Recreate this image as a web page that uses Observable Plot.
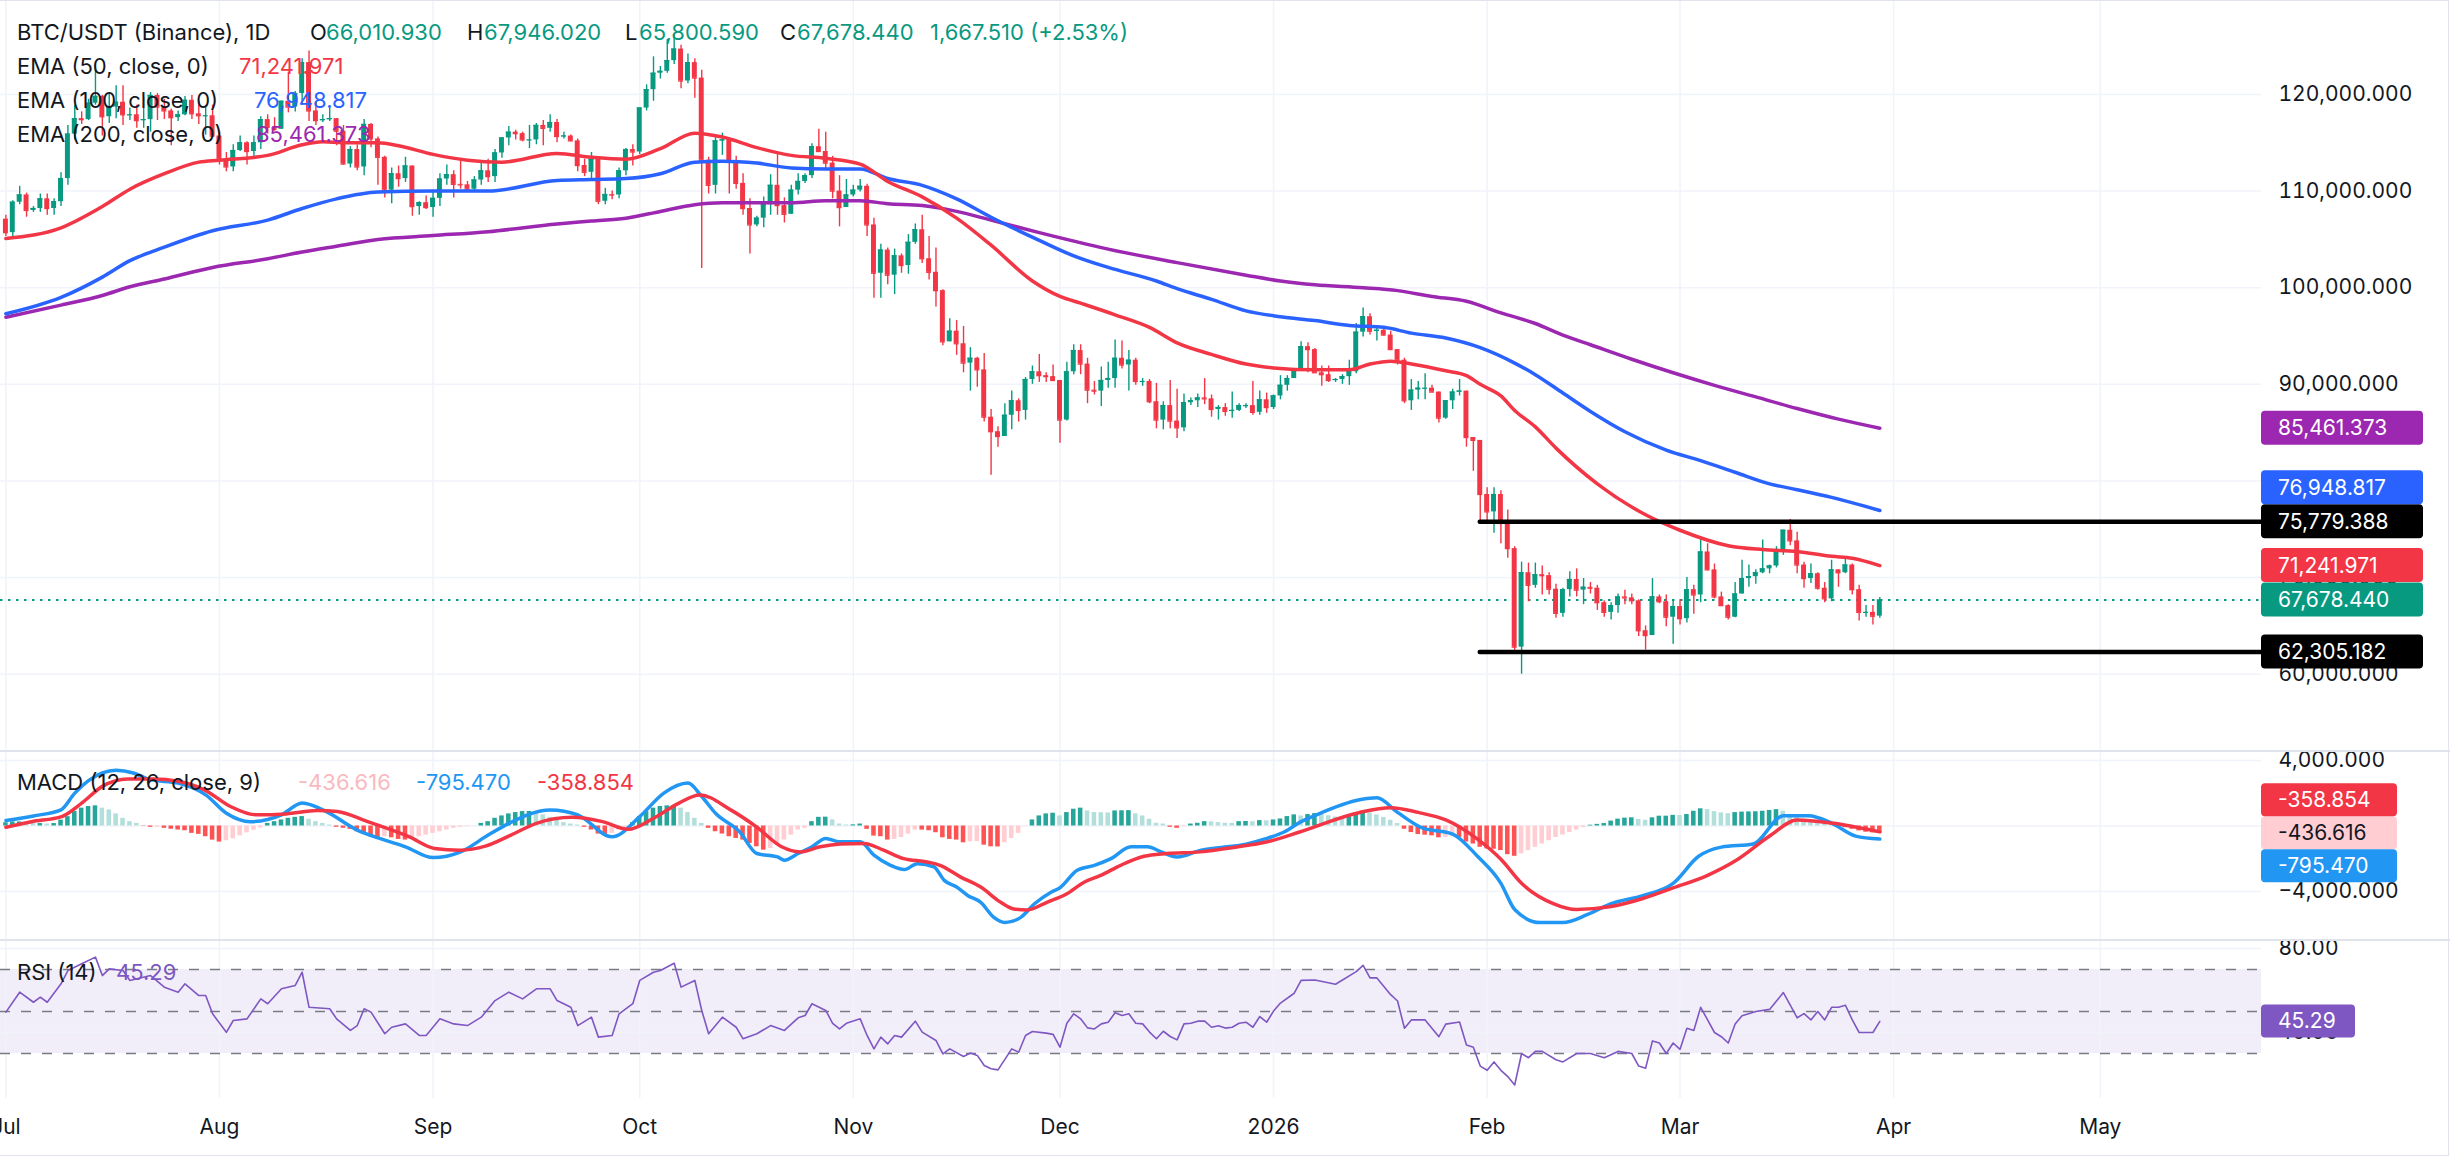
<!DOCTYPE html>
<html><head><meta charset="utf-8">
<script src="https://cdn.jsdelivr.net/npm/d3@7"></script>
<script src="https://cdn.jsdelivr.net/npm/@observablehq/plot@0.6"></script>
<style>
html,body{margin:0;padding:0;background:#fff;}
#chart{position:relative;width:2450px;height:1156px;overflow:hidden;font-family:Inter,"Noto Sans",sans-serif;background:#fff;}
.pane{position:absolute;left:0;}
.lg{position:absolute;font-size:22px;color:#131722;white-space:pre;line-height:26px;}
.sep{position:absolute;left:0;width:2450px;height:2px;background:#e0e3eb;}
</style></head><body><div id="chart"></div>
<script>
// ---------- DATA (prices in thousands of USDT) ----------
// daily candles [open, high, low, close]
const jul2025 = [[107.1,107.5,105.3,105.7],[105.7,109.0,105.2,108.85],[108.85,110.5,108.6,109.6],[109.6,109.8,107.3,108.0],[108.0,108.4,107.8,108.2],[108.2,109.7,107.8,109.2],[109.2,109.7,107.5,108.2],[108.2,109.2,107.5,108.9],[108.9,111.9,108.4,111.3],[111.3,116.8,110.6,115.9],[115.9,118.9,115.3,117.5],[117.5,118.2,116.9,117.4],[117.4,119.5,117.3,119.1],[119.1,123.2,118.9,119.8],[119.8,119.9,115.7,117.7],[117.7,120.1,117.0,118.7],[118.7,120.9,117.5,119.2],[119.2,120.9,116.8,117.9],[117.9,118.6,117.3,117.9],[117.9,118.9,116.5,117.3],[117.3,119.7,116.5,117.4],[117.4,120.2,116.1,119.9],[119.9,120.1,117.3,118.7],[118.7,119.5,117.4,118.3],[118.3,118.5,114.7,117.6],[117.6,118.3,117.2,117.9],[117.9,119.8,117.8,119.4],[119.4,119.9,117.4,118.0],[118.0,119.3,116.9,117.8],[117.8,118.8,115.8,117.8],[117.8,118.9,115.5,115.7]];
const aug2025 = [[115.7,116.1,112.7,113.3],[113.3,114.0,112.0,112.5],[112.5,114.8,112.0,114.2],[114.2,115.7,114.1,115.0],[115.0,115.1,112.7,114.1],[114.1,115.7,113.4,115.0],[115.0,117.7,114.3,117.4],[117.4,117.9,115.9,116.6],[116.6,117.6,116.2,116.4],[116.4,119.3,116.4,119.3],[119.3,122.3,118.1,118.7],[118.7,120.3,118.2,120.1],[120.1,123.7,118.9,123.3],[123.3,124.5,117.2,118.3],[118.3,119.2,116.8,117.3],[117.3,117.9,117.1,117.4],[117.4,118.6,117.2,117.5],[117.5,117.5,114.7,116.2],[116.2,116.8,112.7,112.8],[112.8,114.6,112.4,114.3],[114.3,114.8,112.1,112.5],[112.5,117.4,111.6,116.9],[116.9,117.0,114.5,115.4],[115.4,115.6,110.6,113.5],[113.5,113.6,109.3,110.1],[110.1,112.4,108.7,111.8],[111.8,112.6,110.4,111.3],[111.3,113.5,110.9,112.6],[112.6,112.6,107.4,108.4],[108.4,108.9,107.5,108.8],[108.8,109.5,108.1,108.3]];
const sep2025 = [[108.3,109.9,107.3,109.25],[109.25,111.8,108.4,111.25],[111.25,112.7,110.6,111.7],[111.7,112.1,109.3,110.7],[110.7,113.4,110.2,110.65],[110.65,111.0,109.9,110.2],[110.2,111.5,110.0,111.15],[111.15,112.9,110.6,112.1],[112.1,113.3,110.9,111.5],[111.5,114.3,110.9,113.95],[113.95,115.5,113.4,115.5],[115.5,116.7,114.7,116.1],[116.1,116.3,115.3,115.95],[115.95,116.1,115.1,115.3],[115.3,116.8,114.4,115.3],[115.3,117.0,114.8,116.8],[116.8,117.3,114.7,116.5],[116.5,117.9,116.1,117.1],[117.1,117.4,115.0,115.65],[115.65,116.1,115.4,115.7],[115.7,115.8,115.1,115.2],[115.2,115.4,112.0,112.65],[112.65,113.3,111.5,111.95],[111.95,114.0,111.1,113.3],[113.3,113.5,108.6,108.95],[108.95,110.3,108.6,109.65],[109.65,110.0,109.1,109.6],[109.6,112.4,109.2,112.1],[112.1,114.4,111.6,114.3],[114.3,114.8,112.6,114.05]];
const oct2025 = [[114.05,118.6,113.8,118.6],[118.6,121.0,118.3,120.5],[120.5,123.9,119.3,122.2],[122.2,122.9,121.6,122.4],[122.4,125.7,122.2,123.5],[123.5,126.2,123.1,124.7],[124.7,125.1,120.6,121.4],[121.4,124.2,121.1,123.3],[123.3,123.7,119.6,121.7],[121.7,122.5,102.0,113.2],[113.2,113.5,109.7,110.6],[110.6,115.8,109.7,115.2],[115.2,116.0,113.7,115.3],[115.3,115.5,109.7,113.1],[113.1,113.6,110.2,110.8],[110.8,111.8,107.5,108.2],[108.2,109.2,103.5,106.5],[106.5,107.4,106.3,107.2],[107.2,109.4,106.2,108.6],[108.6,111.7,107.5,110.6],[110.6,114.0,107.5,108.5],[108.5,109.3,106.7,107.6],[107.6,110.6,107.6,110.1],[110.1,111.8,109.6,111.0],[111.0,111.8,110.8,111.6],[111.6,114.9,111.3,114.6],[114.6,116.4,114.0,114.1],[114.1,116.1,112.2,112.9],[112.9,113.6,109.2,110.0],[110.0,111.6,106.3,108.3],[108.3,111.2,108.3,109.6]];
const nov2025 = [[109.6,110.6,109.4,110.1],[110.1,111.2,109.9,110.5],[110.5,110.7,105.3,106.5],[106.5,107.2,98.9,101.5],[101.5,104.5,98.9,103.9],[103.9,104.1,100.3,101.3],[101.3,104.0,99.3,103.3],[103.3,103.5,101.5,102.3],[102.3,105.5,101.4,104.7],[104.7,106.6,104.5,106.0],[106.0,107.5,102.5,103.0],[103.0,105.3,100.8,101.6],[101.6,104.1,98.0,99.7],[99.7,99.8,94.0,94.4],[94.4,96.8,94.4,95.5],[95.5,96.6,93.0,94.2],[94.2,96.0,91.2,92.2],[92.2,93.8,89.3,92.7],[92.7,92.8,89.7,91.5],[91.5,93.2,86.1,86.6],[86.6,87.4,80.6,85.1],[85.1,85.6,83.5,84.6],[84.6,88.0,84.6,86.8],[86.8,89.3,85.3,88.3],[88.3,88.5,86.1,87.3],[87.3,90.7,86.3,90.5],[90.5,91.9,90.0,91.3],[91.3,93.1,90.2,90.9],[90.9,91.2,90.2,90.8],[90.8,92.0,90.3,90.4]];
const dec2025 = [[90.4,90.4,83.9,86.3],[86.3,92.3,86.2,91.3],[91.3,94.1,91.0,93.5],[93.5,94.1,91.0,92.1],[92.1,92.7,88.0,89.4],[89.4,90.3,88.9,89.3],[89.3,91.8,87.7,90.4],[90.4,92.3,89.6,90.6],[90.6,94.6,89.6,92.7],[92.7,94.5,91.6,92.0],[92.0,93.5,89.3,92.5],[92.5,92.7,89.9,90.3],[90.3,90.6,89.8,90.3],[90.3,90.5,88.0,88.2],[88.2,90.1,85.4,86.3],[86.3,88.2,85.3,87.8],[87.8,90.4,85.4,86.2],[86.2,89.5,84.4,85.5],[85.5,89.0,85.1,88.1],[88.1,88.6,87.8,88.3],[88.3,89.0,87.6,88.6],[88.6,90.6,87.9,88.5],[88.5,88.9,86.6,87.4],[87.4,87.8,86.3,87.6],[87.6,88.0,86.7,87.2],[87.2,89.2,86.5,87.3],[87.3,88.0,87.2,87.8],[87.8,88.0,87.5,87.8],[87.8,90.3,86.8,87.1],[87.1,89.3,86.8,88.4],[88.4,89.1,87.0,87.6]];
const jan2026 = [[87.6,88.9,87.4,88.8],[88.8,90.9,88.4,89.9],[89.9,90.9,89.3,90.6],[90.6,91.6,90.6,91.5],[91.5,94.4,91.4,93.9],[93.9,94.3,91.2,93.6],[93.6,93.7,91.2,91.2],[91.2,91.9,89.8,91.0],[91.0,91.9,90.2,90.4],[90.4,90.6,90.2,90.5],[90.5,91.0,90.0,90.8],[90.8,92.5,89.9,91.3],[91.3,96.3,91.1,95.4],[95.4,97.9,94.9,97.0],[97.0,97.3,95.1,95.5],[95.5,95.8,94.5,95.6],[95.6,95.7,95.0,95.1],[95.1,95.5,93.6,93.6],[93.6,93.6,92.0,92.5],[92.5,92.7,88.0,88.3],[88.3,90.5,87.3,89.4],[89.4,90.3,88.4,89.6],[89.6,91.1,88.4,89.6],[89.6,89.9,89.2,89.2],[89.2,89.2,86.0,86.5],[86.5,88.3,86.4,88.3],[88.3,89.5,87.4,89.2],[89.2,90.5,88.8,89.3],[89.3,89.3,83.5,84.5],[84.5,84.5,81.0,84.2],[84.2,84.2,75.7,78.6]];
const feb2026 = [[78.6,79.3,75.7,76.8],[76.8,79.3,74.6,78.6],[78.6,79.0,73.5,75.6],[75.6,77.0,72.0,73.0],[73.0,73.2,62.3,62.8],[62.8,71.6,60.0,70.5],[70.5,71.5,67.5,69.2],[69.2,71.5,68.9,70.3],[70.3,71.2,68.2,70.2],[70.2,70.5,68.2,68.8],[68.8,69.3,65.8,66.3],[66.3,68.9,65.9,68.75],[68.75,70.6,68.0,69.8],[69.8,70.9,68.0,68.7],[68.7,69.9,67.2,69.0],[69.0,69.5,68.3,68.9],[68.9,69.2,66.6,67.4],[67.4,67.6,65.9,66.4],[66.4,67.4,65.6,67.1],[67.1,68.3,66.3,68.0],[68.0,68.7,67.2,67.9],[67.9,68.3,67.2,67.6],[67.6,67.7,63.9,64.5],[64.5,65.0,62.5,64.0],[64.0,69.9,64.0,68.0],[68.0,68.2,67.3,67.5],[67.5,68.2,64.9,65.9],[65.9,67.7,63.1,67.0]];
const mar2026 = [[67.0,67.7,65.1,65.75],[65.75,70.0,65.3,68.75],[68.75,69.2,66.2,68.2],[68.2,74.0,67.4,72.65],[72.65,73.5,70.7,70.8],[70.8,71.4,67.8,68.0],[68.0,68.5,67.0,67.1],[67.1,67.2,65.6,65.9],[65.9,69.5,65.85,68.3],[68.3,71.8,68.3,69.9],[69.9,71.3,69.0,70.1],[70.1,70.8,69.3,70.5],[70.5,73.9,70.4,70.9],[70.9,71.3,70.4,71.2],[71.2,73.2,71.0,72.9],[72.9,74.9,72.3,74.9],[74.9,76.0,73.3,73.8],[73.8,74.7,70.4,71.3],[71.3,71.6,68.9,69.9],[69.9,71.4,69.4,70.4],[70.4,70.5,68.7,68.9],[68.9,69.5,67.4,67.8],[67.8,71.8,67.5,70.8],[70.8,70.8,69.0,70.5],[70.5,72.0,70.4,71.3],[71.3,71.4,68.2,68.75],[68.75,69.2,65.5,66.4],[66.4,67.1,65.9,66.4],[66.4,67.1,65.1,66.0],[66.011,67.946,65.801,67.678]];
const monthStarts = ["2025-07-01","2025-08-01","2025-09-01","2025-10-01","2025-11-01","2025-12-01","2026-01-01","2026-02-01","2026-03-01"];

// MACD histogram, one value per candle, per month
const histJul = [200,250,250,200,150,150,120,150,360,570,880,1090,1190,1230,1090,980,740,470,265,160,-20,-80,-80,-140,-200,-245,-290,-450,-510,-655,-860];
const histAug = [-980,-900,-780,-600,-420,-260,-120,160,265,370,470,530,575,410,265,160,60,-80,-140,-205,-350,-450,-655,-760,-655,-720,-820,-860,-760,-655,-555];
const histSep = [-450,-350,-245,-140,-80,-40,-10,160,265,470,615,740,820,880,890,780,680,530,370,205,120,60,-80,-245,-490,-615,-450,-245,-80,205];
const histOct = [575,880,1090,1190,1230,1240,1090,820,470,160,-140,-350,-490,-655,-760,-860,-1065,-1270,-1475,-1370,-1170,-860,-555,-245,-140,265,530,540,370,120,60];
const histNov = [70,120,-205,-615,-655,-860,-820,-700,-490,-245,-250,-290,-410,-720,-820,-860,-1025,-960,-950,-1170,-1270,-1280,-1025,-760,-450,-20,370,615,740,780];
const histDec = [615,820,1025,1090,920,820,810,800,920,930,940,740,615,410,165,120,-80,-140,-40,120,165,265,255,205,165,160,265,275,260,330,320];
const histJan = [370,430,575,680,615,700,760,700,620,550,500,560,750,860,800,670,520,350,150,-200,-400,-520,-560,-600,-720,-700,-650,-700,-980,-1100,-1300];
const histFeb = [-1400,-1420,-1500,-1750,-1850,-1700,-1500,-1300,-1100,-900,-700,-550,-400,-250,-100,50,100,150,300,420,480,500,400,350,500,600,600,650];
const histMar = [640,700,900,1050,1000,880,800,750,820,850,860,870,900,950,1000,900,700,520,400,300,180,120,60,-60,-100,-200,-300,-380,-420,-436.616];

// EMA readings: [days since 2025-07-01, value in thousands]
const ema50 = [[0,105.1],[8,106.2],[14,108.4],[18,110.2],[23,111.8],[28,113.0],[31,113.2],[38,113.7],[43,114.8],[46,115.1],[49,115.0],[54,115.0],[57,114.7],[62,113.8],[67,113.2],[72,113.0],[80,113.9],[85,113.5],[90,113.3],[95,114.4],[100,116.0],[104,115.6],[109,114.5],[114,113.7],[119,113.4],[124,112.8],[128,111.0],[133,109.4],[138,107.2],[143,104.4],[149,100.7],[153,99.1],[156,98.4],[161,97.2],[166,95.9],[170,94.3],[175,93.1],[180,92.1],[184,91.7],[190,91.5],[195,91.5],[198,92.1],[201,92.4],[204,92.1],[209,91.4],[212,90.9],[214,90.0],[217,88.8],[219,87.3],[222,85.6],[225,83.4],[231,79.7],[238,76.5],[243,74.9],[250,73.3],[255,72.9],[260,72.7],[265,72.2],[268,72.0],[272,71.242]];
const ema100 = [[0,97.3],[8,99.0],[14,101.1],[18,102.8],[23,104.2],[30,105.9],[38,107.0],[43,108.2],[48,109.2],[54,109.9],[62,110.0],[70,110.0],[80,111.1],[85,111.2],[90,111.3],[95,111.8],[100,113.0],[104,113.1],[109,112.9],[114,112.4],[119,112.3],[124,112.3],[128,111.3],[133,110.6],[138,109.2],[143,107.3],[150,104.9],[155,103.3],[160,102.1],[167,100.7],[170,99.9],[175,98.8],[180,97.6],[185,97.0],[190,96.6],[195,96.1],[200,95.9],[204,95.3],[209,94.8],[214,93.8],[219,92.2],[222,91.0],[226,89.1],[230,87.2],[235,85.1],[241,83.2],[246,82.1],[251,80.9],[256,79.7],[260,79.1],[265,78.3],[272,76.949]];
const ema200 = [[0,96.95],[8,98.2],[14,99.2],[18,100.1],[23,100.9],[30,102.1],[38,103.0],[43,103.7],[48,104.3],[54,105.0],[62,105.4],[70,105.8],[80,106.6],[85,106.9],[90,107.2],[95,107.9],[100,108.6],[104,108.8],[109,108.8],[114,108.8],[119,109.0],[124,109.0],[128,108.7],[133,108.5],[138,107.9],[143,107.0],[150,105.7],[160,104.0],[170,102.6],[180,101.3],[185,100.7],[190,100.3],[197,100.0],[202,99.7],[207,99.1],[212,98.6],[217,97.4],[222,96.3],[226,95.1],[230,94.1],[236,92.6],[242,91.2],[248,89.9],[254,88.7],[260,87.5],[266,86.4],[272,85.461]];

// MACD line and signal readings: [days since 2025-07-01, value]
const macdLine = [[0,330],[4,615],[8,985],[10,2010],[14,3240],[16,3400],[18.5,3240],[21,2830],[25,2620],[29,1900],[32,780],[35.5,265],[40,680],[43,1400],[46.5,880],[51,-250],[55,-860],[58,-1270],[62,-1930],[66,-1580],[70,-555],[73,165],[79,985],[83,680],[88,-655],[92,575],[95.5,2010],[99,2620],[101,1800],[103,780],[106.5,-350],[109,-1680],[112,-1890],[113,-2090],[115,-1680],[117,-1270],[119,-760],[121,-965],[124,-965],[126,-1780],[128.4,-2400],[130.4,-2660],[132.3,-2300],[134.7,-2500],[136.2,-3320],[138,-3730],[139.6,-4240],[141.5,-4660],[143.4,-5580],[145,-5890],[147.3,-5580],[149.3,-4750],[151.7,-4040],[153,-3770],[155.5,-2700],[158,-2400],[160.4,-1990],[163.3,-1270],[165.7,-1270],[167.7,-1580],[170,-1890],[173.5,-1475],[176.4,-1310],[180,-1105],[183,-760],[185.6,-350],[188,265],[190,640],[196.5,1600],[199,1720],[202,830],[205.6,-120],[210,-490],[213.6,-1850],[217,-3500],[219,-5100],[222.7,-5900],[226,-5900],[229.6,-5400],[233,-4740],[237.6,-4250],[242,-3500],[245.7,-1850],[249,-1290],[253.6,-1100],[258,620],[261.6,620],[265,180],[268.5,-615],[272,-795.47]];
const macdSignal = [[0,-80],[3.7,265],[8.1,575],[11,1400],[14,2420],[17.7,2870],[21.4,2870],[25,2730],[28.8,2210],[32.6,1190],[36.3,680],[40.7,740],[45.2,940],[48.1,880],[52.5,265],[58.5,-655],[62.2,-1370],[65.9,-1475],[69.6,-1230],[73.3,-555],[77,165],[82.2,535],[86.6,265],[90.3,-205],[94,470],[97.7,1400],[100.7,1900],[105.2,985],[108.9,-40],[112.6,-1270],[115.3,-1580],[118.2,-1270],[121.1,-1105],[124.5,-1065],[127.4,-1475],[130.3,-1990],[133.7,-2195],[135.6,-2400],[138.6,-3120],[141.5,-3730],[144.4,-4660],[146.3,-5070],[148.2,-5130],[151.1,-4660],[154,-4140],[156.5,-3430],[158.9,-3020],[161.8,-2400],[165.2,-1850],[168.5,-1680],[173.4,-1580],[178.2,-1310],[183.1,-965],[187.9,-350],[196.5,830],[201,1110],[205,830],[209,370],[213.6,-800],[217,-2030],[220,-3500],[224.6,-4740],[228,-5100],[233,-4920],[237.6,-4430],[242,-3780],[247,-3010],[251.4,-2030],[256,-615],[260,370],[265,180],[272,-358.854]];

// RSI(14) readings: [days since 2025-07-01, value]
const rsi14 = [[0,49.7],[2,59.2],[4,54.4],[5,56.8],[6,54.4],[8,63.2],[9,69.5],[11,72.7],[13,75.9],[14,67.1],[15,70.3],[17,69.5],[18,64.8],[21,67.1],[23,61.6],[25,59.2],[26,63.2],[28,57.6],[29,57.6],[30,48.9],[32,40.1],[33,45.7],[35,46.5],[37,56.0],[38,53.7],[40,60.8],[42,62.4],[43,68.7],[44,52.0],[47,51.3],[48,46.5],[50,41.0],[51,43.3],[52,51.3],[53,49.7],[55,39.4],[56,42.5],[58,44.1],[60,38.6],[61,38.6],[63,46.5],[65,44.1],[67,43.3],[69,47.3],[71,55.2],[73,59.2],[75,56.0],[77,60.8],[79,60.8],[80,55.2],[82,52.0],[83,43.3],[85,47.3],[86,37.8],[88,38.6],[89,48.9],[91,53.7],[92,64.8],[94,68.7],[95,69.5],[97,73.0],[98,61.6],[100,64.8],[101,50.5],[102,39.4],[104,47.3],[106,42.5],[107,37.0],[109,39.4],[111,43.3],[113,41.0],[115,47.0],[116,48.1],[117,53.7],[119,50.5],[120,44.4],[121,41.7],[122,44.4],[124,46.5],[125,38.6],[126,32.2],[127,37.8],[128,34.6],[129,38.6],[130,37.8],[132,45.4],[133,40.2],[135,36.2],[136,29.8],[137,32.2],[139,28.6],[140,30.2],[141,29.1],[142,24.3],[143,22.7],[144,22.2],[146,32.2],[147,30.6],[148,38.6],[149,40.5],[151,39.7],[152,39.1],[153,33.0],[154,44.4],[155,48.9],[156,46.5],[157,42.2],[158,41.7],[159,44.1],[160,44.9],[161,49.4],[162,48.1],[163,48.9],[164,44.4],[165,44.1],[166,40.2],[167,37.0],[168,40.6],[169,38.1],[170,36.5],[171,44.1],[172,44.4],[173,45.4],[174,45.4],[175,42.5],[176,43.2],[177,42.1],[178,42.5],[179,44.4],[180,44.9],[181,42.5],[182,47.6],[183,44.9],[184,50.2],[185,54.0],[187,58.7],[188,64.8],[190,65],[193,63],[196,69],[197,72],[198,66],[199,66],[201,58],[202,55],[203,42],[204,46],[206,46],[208,38],[209,44],[211,45],[212,34],[213,33],[214,24],[215,22],[216,26],[217,22],[218,19],[219,15],[220,30],[221,28],[222,31],[223,31],[225,27],[226,26],[228,30],[230,30],[232,28],[234,31],[236,30],[237,24],[238,23],[239,36],[240,35],[241,30],[242,35],[243,32],[244,42],[245,41],[246,52],[247,46],[248,40],[249,38],[250,35],[251,44],[252,48],[254,50],[256,51],[257,55],[258,59],[259,53],[260,47],[261,49],[262,46],[263,50],[264,46],[265,52],[266,52],[267,53],[268,46],[269,40],[270,40],[271,40],[272,45.29]];

// horizontal levels drawn from 2026-01-31
const levels = [75.779388, 62.305182];
const levelStart = "2026-01-31";

// axis ticks
const priceTicks = [60,70,80,90,100,110,120];
const macdTicks = [4000,-4000];
const rsiTicks = [80,40];
const monthTicks = ["2025-07-01","2025-08-01","2025-09-01","2025-10-01","2025-11-01","2025-12-01","2026-01-01","2026-02-01","2026-03-01","2026-04-01","2026-05-01"];
const monthLabels = ["Jul","Aug","Sep","Oct","Nov","Dec","2026","Feb","Mar","Apr","May"];

// legend texts
const ohlcLegend = {o:"66,010.930",h:"67,946.020",l:"65,800.590",c:"67,678.440",chg:"1,667.510 (+2.53%)"};

// ---------- BUILD ----------
const GREEN="#089981", RED="#f23645", BLUE="#2962ff", PURPLE="#9c27b0", MACDBLUE="#2196f3", RSIP="#7e57c2", GRID="#f0f3fa", TXT="#131722";
const DAY = 864e5;
const T0 = Date.UTC(2025,6,1);
const dd = d => new Date(T0 + d*DAY);
const pd = s => new Date(s+"T00:00:00Z");
const shift = (date, k) => new Date(+date + k*DAY);
const xDomain = [dd(-0.784), dd(327.4)];
const W = 2450, MR = 189;

const candles = [];
[jul2025,aug2025,sep2025,oct2025,nov2025,dec2025,jan2026,feb2026,mar2026].forEach((rows,m)=>rows.forEach((r,i)=>{
  candles.push({date:d3.utcDay.offset(pd(monthStarts[m]),i),open:r[0],high:r[1],low:r[2],close:r[3]});
}));
candles.forEach(c=>c.col = c.close>=c.open?GREEN:RED);
const histVals = [].concat(histJul,histAug,histSep,histOct,histNov,histDec,histJan,histFeb,histMar);
const hist = histVals.map((v,i)=>{
  const prev = i>0?histVals[i-1]:v;
  const col = v>=0 ? (v>=prev?"#26a69a":"#b2dfdb") : (v<prev?"#ff5252":"#ffcdd2");
  return {date:candles[i].date, v, col};
});
const toPts = arr => arr.map(([d,v])=>({date:dd(d), v}));
const months = monthTicks.map((s,i)=>({date:pd(s), label:monthLabels[i]}));

const chart = document.getElementById("chart");
function place(el, top){ el.classList.add("pane"); el.style.top = top+"px"; chart.appendChild(el); }
const common = {width:W, marginLeft:0, marginRight:MR, marginTop:0, marginBottom:0,
  x:{type:"utc", domain:xDomain, axis:null}, style:{fontFamily:"Inter, sans-serif", color:TXT, background:"transparent", overflow:"visible"}};
const yAxis = (ticks, fmt) => Plot.axisY(ticks, {anchor:"right", label:null, tickSize:0, tickPadding:17, tickFormat:fmt, fontSize:21, fill:TXT, textAnchor:"start"});
const vgrid = Plot.ruleX(months, {x:"date", stroke:GRID, strokeWidth:1.5});

// main price pane
const main = Plot.plot({...common, height:750,
  y:{domain:[52.104,129.729], axis:null, label:null},
  marks:[
    Plot.ruleY(priceTicks, {stroke:GRID, strokeWidth:1.5}),
    vgrid,
    Plot.ruleY([candles[candles.length-1].close], {stroke:GREEN, strokeWidth:2, strokeDasharray:"2.5,5.5"}),
    Plot.ruleX(candles, {x:"date", y1:"low", y2:"high", stroke:"col", strokeWidth:1.4}),
    Plot.rect(candles, {x1:d=>shift(d.date,-0.36), x2:d=>shift(d.date,0.36), y1:"open", y2:"close", fill:"col"}),
    Plot.ruleY(candles, {y:"close", x1:d=>shift(d.date,-0.36), x2:d=>shift(d.date,0.36), stroke:"col", strokeWidth:1.3}),
    Plot.line(toPts(ema200), {x:"date", y:"v", stroke:PURPLE, strokeWidth:3.5, curve:"monotone-x"}),
    Plot.line(toPts(ema100), {x:"date", y:"v", stroke:BLUE, strokeWidth:3.5, curve:"monotone-x"}),
    Plot.line(toPts(ema50), {x:"date", y:"v", stroke:RED, strokeWidth:3.5, curve:"monotone-x"}),
    Plot.ruleY(levels, {y:d=>d, x1:pd(levelStart), x2:xDomain[1], stroke:"#000", strokeWidth:4.5, strokeLinecap:"round"}),
    yAxis(priceTicks, v=>d3.format(",.3f")(v*1000))
  ]});
place(main, 0);

// MACD pane
const macd = Plot.plot({...common, height:188,
  y:{domain:[-6931,4550], axis:null, label:null},
  marks:[
    Plot.ruleY([4000,0,-4000], {stroke:GRID, strokeWidth:1.5}),
    vgrid,
    Plot.rect(hist, {x1:d=>shift(d.date,-0.33), x2:d=>shift(d.date,0.33), y1:0, y2:"v", fill:"col"}),
    Plot.line(toPts(macdLine), {x:"date", y:"v", stroke:MACDBLUE, strokeWidth:3.5, curve:"monotone-x"}),
    Plot.line(toPts(macdSignal), {x:"date", y:"v", stroke:RED, strokeWidth:3.5, curve:"monotone-x"}),
    yAxis(macdTicks, v=>d3.format(",.3f")(v))
  ]});
place(macd, 751);

// RSI pane
const rsi = Plot.plot({...common, height:158,
  y:{domain:[8.57,83.81], axis:null, label:null},
  marks:[
    Plot.rect([{a:70,b:30}], {x1:xDomain[0], x2:xDomain[1], y1:"a", y2:"b", fill:RSIP, fillOpacity:0.1}),
    Plot.ruleY(rsiTicks, {stroke:GRID, strokeWidth:1.5}),
    vgrid,
    Plot.ruleY([70,50,30], {stroke:"#787b86", strokeWidth:1.5, strokeDasharray:"10,11"}),
    Plot.line(toPts(rsi14), {x:"date", y:"v", stroke:RSIP, strokeWidth:1.6}),
    yAxis(rsiTicks, v=>d3.format(".2f")(v))
  ]});
place(rsi, 940);

// time axis
const taxis = Plot.plot({...common, height:58, y:{axis:null},
  marks:[ Plot.text(months, {x:"date", text:"label", frameAnchor:"middle", fontSize:21, fill:TXT, fontWeight:d=>d.label==="2026"?"700":"400"}) ]});
place(taxis, 1098);

// value labels on the price scale, stacked so they don't overlap
function tags(fig, items, w, h){
  const sy = fig.scale("y");
  const placed = [];
  for (const it of items){
    let y = sy.apply(it.value);
    for (let k=0;k<3;k++) for (const p of placed){ if (Math.abs(y-p.y) < h-0.5) y = y < p.y ? p.y-h : p.y+h; }
    placed.push({...it, y});
  }
  const g = d3.select(fig).append("g").attr("text-anchor","start");
  for (const p of placed){
    g.append("rect").attr("x",W-MR).attr("y",p.y-h/2).attr("width",w).attr("height",h).attr("rx",4).attr("fill",p.bg);
    g.append("text").attr("x",W-MR+17).attr("y",p.y).attr("dy","0.36em").attr("text-anchor","start").attr("fill",p.fg).attr("font-size",21).attr("font-family","Inter, sans-serif").text(p.text);
  }
}
const f3 = d3.format(",.3f");
tags(main, [
  {value:levels[0], text:f3(levels[0]*1000), bg:"#000", fg:"#fff"},
  {value:levels[1], text:f3(levels[1]*1000), bg:"#000", fg:"#fff"},
  {value:67.67844, text:ohlcLegend.c, bg:GREEN, fg:"#fff"},
  {value:71.241971, text:"71,241.971", bg:RED, fg:"#fff"},
  {value:85.461373, text:"85,461.373", bg:PURPLE, fg:"#fff"},
  {value:76.948817, text:"76,948.817", bg:BLUE, fg:"#fff"}
], 162, 34);
tags(macd, [
  {value:-436.616, text:"-436.616", bg:"#ffcdd2", fg:TXT},
  {value:-358.854, text:"-358.854", bg:RED, fg:"#fff"},
  {value:-795.470, text:"-795.470", bg:MACDBLUE, fg:"#fff"}
], 136, 33);
tags(rsi, [{value:45.29, text:"45.29", bg:RSIP, fg:"#fff"}], 94, 33);

// legends
function legend(top, parts){
  const div = document.createElement("div"); div.className="lg"; div.style.top = top+"px"; div.style.left="0px"; div.style.width="1400px"; div.style.height="26px";
  for (const [x, t, c] of parts){ const s=document.createElement("span"); s.textContent=t; s.style.position="absolute"; s.style.left=x+"px"; s.style.color=c; div.appendChild(s); }
  chart.appendChild(div);
}
legend(19, [[17,"BTC/USDT (Binance), 1D",TXT],[310,"O",TXT],[326,ohlcLegend.o,GREEN],[467,"H",TXT],[484,ohlcLegend.h,GREEN],[625,"L",TXT],[639,ohlcLegend.l,GREEN],[780,"C",TXT],[797,ohlcLegend.c,GREEN],[930,ohlcLegend.chg,GREEN]]);
legend(53, [[17,"EMA (50, close, 0)",TXT],[239,"71,241.971",RED]]);
legend(87, [[17,"EMA (100, close, 0)",TXT],[254,"76,948.817",BLUE]]);
legend(121, [[17,"EMA (200, close, 0)",TXT],[256,"85,461.373",PURPLE]]);
legend(769, [[17,"MACD (12, 26, close, 9)",TXT],[298,"-436.616","#f9b9bf"],[416,"-795.470",MACDBLUE],[537,"-358.854",RED]]);
legend(959, [[17,"RSI (14)",TXT],[116,"45.29",RSIP]]);

// separators and frame
for (const y of [750, 939]){ const s=document.createElement("div"); s.className="sep"; s.style.top=y+"px"; chart.appendChild(s); }
const fr=document.createElement("div"); fr.style.cssText="position:absolute;left:0;top:0;width:2448px;height:1154px;border:1px solid #e0e3eb;border-left:none;pointer-events:none;"; chart.appendChild(fr);
</script></body></html>
